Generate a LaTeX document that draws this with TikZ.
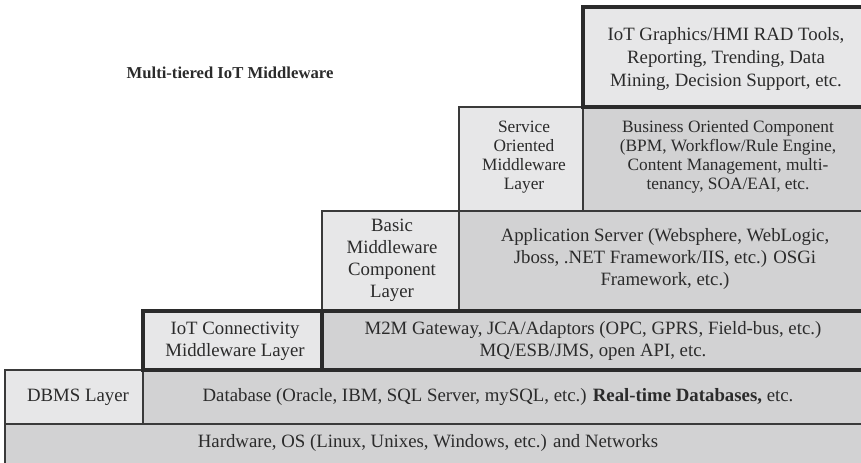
\documentclass[tikz,border=0pt]{standalone}
\usepackage{fontspec}
\setmainfont{Liberation Serif}
\usepackage{tikz}
\usetikzlibrary{positioning}
\definecolor{Ink}{HTML}{2B2B2B}
\definecolor{Edge}{HTML}{3A3A3A}
\definecolor{PaleFill}{HTML}{E7E7E8}
\definecolor{DeepFill}{HTML}{D2D2D3}

\tikzset{
  thinbox/.style={draw=Edge,line width=1.1pt},
  boldbox/.style={draw=Ink,line width=2.3pt},
  layertext/.style={text=Ink,align=center,inner sep=0pt,font=\fontsize{14.1}{16.5}\selectfont},
  tighttext/.style={layertext,font=\fontsize{13}{14.4}\selectfont}
}

\begin{document}
\begin{tikzpicture}[x=0.75pt,y=-0.75pt]
  \useasboundingbox (0,0) rectangle (861,462);
  \begin{scope}
  \clip (0,0) rectangle (861,462);
  % thin layers
  \draw[thinbox,fill=DeepFill] (5,424) rectangle (880,480);
  \draw[thinbox,fill=PaleFill] (5,370) rectangle (143,424);
  \draw[thinbox,fill=DeepFill] (143,370) rectangle (880,424);
  \draw[thinbox,fill=PaleFill] (322,211) rectangle (459,311);
  \draw[thinbox,fill=DeepFill] (459,211) rectangle (880,311);
  \draw[thinbox,fill=PaleFill] (459,107) rectangle (583,211);
  \draw[thinbox,fill=DeepFill] (583,107) rectangle (880,211);
  % bold layers
  \draw[boldbox,fill=PaleFill] (143,311) rectangle (322,370);
  \draw[boldbox,fill=DeepFill] (322,311) rectangle (880,370);
  \draw[boldbox,fill=PaleFill] (583,7) rectangle (880,107);
  \end{scope}

  \node[layertext,font=\bfseries\fontsize{12.5}{15}\selectfont] (title) at (230,73) {Multi-tiered IoT Middleware};

  \node[layertext] (hardware) at (428,443) {Hardware, OS (Linux, Unixes, Windows, etc.) and Networks};
  \node[layertext] (dbms) at (78,397) {DBMS Layer};
  \node[layertext] (database) at (498,397) {Database (Oracle, IBM, SQL Server, mySQL, etc.) \textbf{Real-time Databases,} etc.};
  \node[layertext] (connect) at (235,341) {IoT Connectivity\\Middleware Layer};
  \node[layertext] (gateway) at (593,341) {M2M Gateway, JCA/Adaptors (OPC, GPRS, Field-bus, etc.)\\MQ/ESB/JMS, open API, etc.};
  \node[layertext] (basic) at (392,260) {Basic\\Middleware\\Component\\Layer};
  \node[layertext] (appserver) at (665,259) {Application Server (Websphere, WebLogic,\\Jboss, .NET Framework/IIS, etc.) OSGi\\Framework, etc.)};
  \node[tighttext] (service) at (524,157) {Service\\Oriented\\Middleware\\Layer};
  \node[tighttext] (business) at (728,157) {Business Oriented Component\\(BPM, Workflow/Rule Engine,\\Content Management, multi-\\tenancy, SOA/EAI, etc.};
  \node[layertext,font=\fontsize{14.1}{17.5}\selectfont] (graphics) at (726,59) {IoT Graphics/HMI RAD Tools,\\Reporting, Trending, Data\\Mining, Decision Support, etc.};
\end{tikzpicture}
\end{document}
